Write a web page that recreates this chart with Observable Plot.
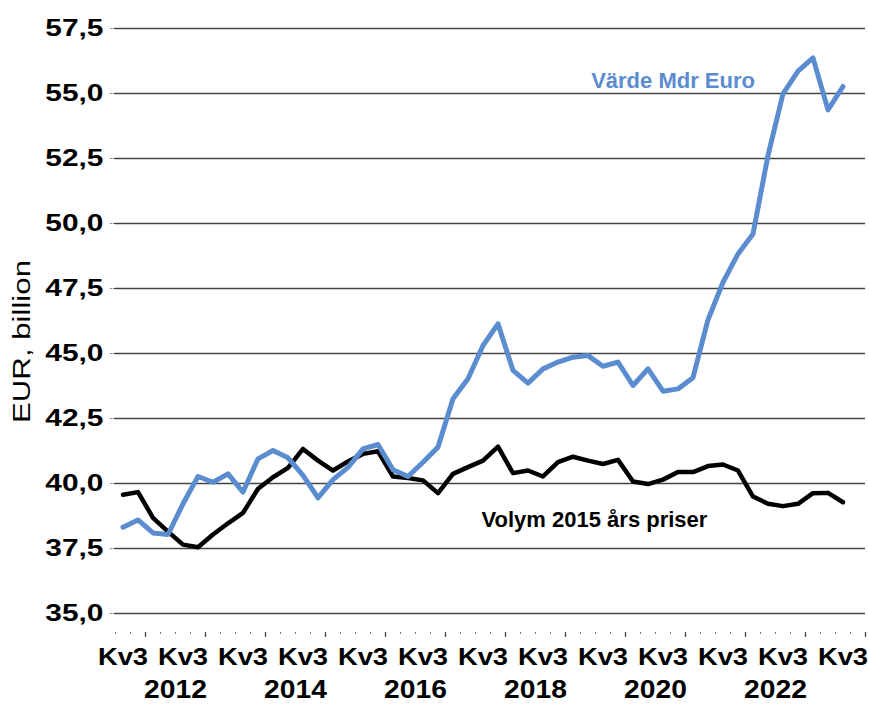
<!DOCTYPE html>
<html><head><meta charset="utf-8">
<script src="https://cdn.jsdelivr.net/npm/d3@7"></script>
<script src="https://cdn.jsdelivr.net/npm/@observablehq/plot@0.6"></script>
<style>
body{margin:0;background:#fff}
#chart svg{font-family:"Liberation Sans",Arial,sans-serif;display:block}
</style>
</head><body><div id="chart"></div>
<script>
// Categories: quarters (last one empty, as in the reference axis)
const quarters = [
  "2011 Kv3","2011 Kv4",
  "2012 Kv1","2012 Kv2","2012 Kv3","2012 Kv4",
  "2013 Kv1","2013 Kv2","2013 Kv3","2013 Kv4",
  "2014 Kv1","2014 Kv2","2014 Kv3","2014 Kv4",
  "2015 Kv1","2015 Kv2","2015 Kv3","2015 Kv4",
  "2016 Kv1","2016 Kv2","2016 Kv3","2016 Kv4",
  "2017 Kv1","2017 Kv2","2017 Kv3","2017 Kv4",
  "2018 Kv1","2018 Kv2","2018 Kv3","2018 Kv4",
  "2019 Kv1","2019 Kv2","2019 Kv3","2019 Kv4",
  "2020 Kv1","2020 Kv2","2020 Kv3","2020 Kv4",
  "2021 Kv1","2021 Kv2","2021 Kv3","2021 Kv4",
  "2022 Kv1","2022 Kv2","2022 Kv3","2022 Kv4",
  "2023 Kv1","2023 Kv2","2023 Kv3","2023 Kv4"
];
// Series values (EUR billion)
const volym = [
  39.57, 39.67, 38.68, 38.15, 37.65, 37.55, 38.04, 38.47, 38.87, 39.80,
  40.24, 40.60, 41.33, 40.88, 40.50, 40.85, 41.14, 41.24, 40.27, 40.21,
  40.12, 39.63, 40.37, 40.63, 40.88, 41.42, 40.40, 40.50, 40.27, 40.82,
  41.03, 40.88, 40.75, 40.91, 40.08, 39.98, 40.15, 40.44, 40.44, 40.67,
  40.73, 40.50, 39.50, 39.22, 39.13, 39.22, 39.63, 39.64, 39.28
];
const varde = [
  38.32, 38.60, 38.10, 38.04, 39.22, 40.27, 40.05, 40.37, 39.67, 40.95,
  41.27, 40.99, 40.31, 39.45, 40.15, 40.62, 41.33, 41.50, 40.53, 40.27,
  40.82, 41.40, 43.26, 44.03, 45.31, 46.14, 44.35, 43.86, 44.41, 44.67,
  44.86, 44.92, 44.51, 44.67, 43.77, 44.41, 43.55, 43.64, 44.07, 46.30,
  47.74, 48.83, 49.60, 52.62, 54.99, 55.86, 56.37, 54.37, 55.27
];
const seriesNames = ["Volym 2015 års priser", "Värde Mdr Euro"];
const yTicks = [35, 37.5, 40, 42.5, 45, 47.5, 50, 52.5, 55, 57.5];
const quarterTickLabel = "Kv3";
const yearLabels = ["2012", "2014", "2016", "2018", "2020", "2022"];
const yTitle = "EUR, billion";

const rowsVolym = volym.map((v, i) => ({i, q: quarters[i], v}));
const rowsVarde = varde.map((v, i) => ({i, q: quarters[i], v}));

const minorTicks = d3.range(quarters.length + 1).map(k => k - 0.5);
const majorTicks = quarters.map((q, i) => q.endsWith("Kv1") ? i - 0.5 : null)
  .filter(d => d !== null).concat([quarters.length - 0.5]);
const kvIdx = quarters.map((q, i) => q.endsWith(quarterTickLabel) ? i : null).filter(d => d !== null);
const yearPos = new Map(yearLabels.map(y => [quarters.indexOf(y + " Kv3") - 0.5, y]));

const blue = "#5b8ccf";

const chart = Plot.plot({
  width: 869, height: 704,
  marginLeft: 115, marginRight: 4, marginTop: 28, marginBottom: 72,
  x: {type: "linear", domain: [-0.5, quarters.length - 0.5], axis: null},
  y: {domain: [34.27, 57.5], axis: null},
  marks: [
    Plot.gridY(yTicks, {stroke: "#444", strokeOpacity: 1, strokeWidth: 1.3}),
    Plot.axisY(yTicks, {tickSize: 5, tickPadding: 7, stroke: "#555", strokeDasharray: "2,1.5",
      tickFormat: d => d.toFixed(1).replace(".", ","), fontSize: 23, fontWeight: "bold", fill: "#000", label: null}),
    Plot.axisX(minorTicks, {tickSize: 2, tickFormat: () => "", stroke: "#777", strokeWidth: 1, label: null}),
    Plot.axisX(majorTicks, {tickSize: 5, tickFormat: () => "", stroke: "#444", strokeWidth: 1.3, label: null}),
    Plot.axisX(kvIdx, {tickSize: 0, tickPadding: 15, tickFormat: i => quarters[i].split(" ")[1],
      fontSize: 24, fontWeight: "bold", fill: "#000", label: null}),
    Plot.axisX([...yearPos.keys()], {tickSize: 0, tickPadding: 48, tickFormat: d => yearPos.get(d),
      fontSize: 25, fontWeight: "bold", fill: "#000", label: null}),
    Plot.line(rowsVolym, {x: "i", y: "v", stroke: "#000", strokeWidth: 4.5, strokeLinejoin: "round"}),
    Plot.line(rowsVarde, {x: "i", y: "v", stroke: blue, strokeWidth: 5, strokeLinejoin: "round"}),
    Plot.text([seriesNames[0]], {x: 31.43, y: 38.58, text: d => d, fontSize: 22, fontWeight: "bold", fill: "#000", lineAnchor: "middle"}),
    Plot.text([seriesNames[1]], {x: 36.67, y: 55.49, text: d => d, fontSize: 22, fontWeight: "bold", fill: blue, lineAnchor: "middle"}),
    Plot.text([yTitle], {frameAnchor: "left", dx: -93, dy: 11, rotate: -90, text: d => d, fontSize: 24, fill: "#000",
      textAnchor: "middle", lineAnchor: "middle"})
  ]
});

// widen text horizontally like the reference (stretched Excel fonts)
function stretch(t, s) {
  const x = +t.getAttribute("x") || 0, y = +t.getAttribute("y") || 0;
  const T = t.getAttribute("transform") || "";
  t.setAttribute("transform", `${T} translate(${x},${y}) scale(${s},1) translate(${-x},${-y})`);
}
chart.querySelectorAll("text").forEach(t => {
  const s = t.textContent;
  if (/^\d\d,\d$/.test(s)) stretch(t, 1.3);
  else if (s === quarterTickLabel) stretch(t, 1.14);
  else if (yearLabels.includes(s)) stretch(t, 1.13);
  else if (s === yTitle) stretch(t, 1.3);
});
document.getElementById("chart").append(chart);
</script>
</body></html>
